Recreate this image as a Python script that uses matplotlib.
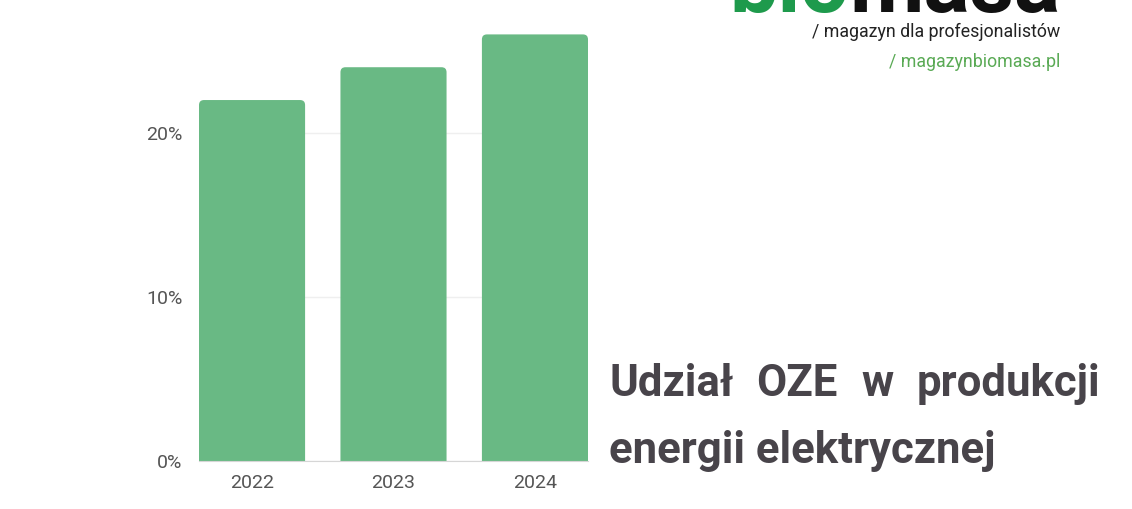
import matplotlib
matplotlib.use("Agg")
import matplotlib.pyplot as plt
from matplotlib.patches import FancyBboxPatch

# dane z wykresu
years = ["2022", "2023", "2024"]
share = [22, 24, 26]          # udział OZE, %
y_ticks = [0, 10, 20]

title_words = ["Udział", "OZE", "w", "produkcji"]
title_last = "energii elektrycznej"
logo_green = "bio"
logo_black = "masa"
tagline = "/ magazyn dla profesjonalistów"
site = "/ magazynbiomasa.pl"

W, H = 1132, 509
BAR = "#69b984"
GREY = "#555555"
TITLE = "#48444a"

plt.rcParams['font.family'] = ['Roboto', 'DejaVu Sans']

fig = plt.figure(figsize=(W / 100, H / 100), dpi=100)
fig.patch.set_facecolor("white")


def px(x, y):
    # piksele od lewego górnego rogu -> współrzędne figury
    return x / W, 1 - y / H


# --- wykres słupkowy ---
ax = fig.add_axes([199 / W, 48 / H, (588 - 199) / W, (461 - 18) / H])
x = list(range(len(years)))
bars = ax.bar(x, share, width=0.75, color=BAR)
ax.set_xlim(-0.375, len(years) - 1 + 0.375)
ax.set_ylim(0, 27)

# zaokrąglone rogi słupków
rx = 5 / 141.5
ry = 5 / 16.4
for b in bars:
    b.set_visible(False)
    p = FancyBboxPatch((b.get_x(), -2), b.get_width(), b.get_height() + 2,
                       boxstyle=f"round,pad=0,rounding_size={rx}",
                       mutation_aspect=ry / rx, fc=BAR, ec="none", zorder=2)
    ax.add_patch(p)

ax.set_yticks(y_ticks)
ax.set_yticklabels([f"{v}%" for v in y_ticks])
ax.set_xticks(x)
ax.set_xticklabels(years)
ax.tick_params(length=0, labelsize=14, colors=GREY)
ax.tick_params(axis="y", pad=12)
ax.tick_params(axis="x", pad=9)
ax.grid(axis="y", color="#efefef", lw=1)
ax.set_axisbelow(True)
for s in ["top", "right", "left"]:
    ax.spines[s].set_visible(False)
ax.spines["bottom"].set_color("#d6d6d6")
ax.set_facecolor("none")

# --- tytuł (wyjustowany) ---
fs_title = 31.5
left, right = 609, 1100
fig.canvas.draw()
r = fig.canvas.get_renderer()
words = []
for w in title_words:
    t = fig.text(0, 0, w, fontsize=fs_title, fontweight="bold", color=TITLE,
                 va="baseline", ha="left")
    words.append(t)
widths = [t.get_window_extent(r).width for t in words]
gap = (right - left - sum(widths)) / (len(words) - 1)
cx = left
for t, wd in zip(words, widths):
    t.set_position(px(cx, 396))
    cx += wd + gap
fig.text(*px(left, 463), title_last, fontsize=fs_title, fontweight="bold",
         color=TITLE, va="baseline", ha="left")

# --- logo ---
lg = fig.text(*px(1060, 12), logo_black, fontsize=62, fontweight="bold",
              color="#111111", va="baseline", ha="right")
fig.canvas.draw()
bx = lg.get_window_extent(r).x0
fig.text(bx / W, 1 - 12 / H, logo_green, fontsize=62, fontweight="bold",
         color="#1e9a4c", va="baseline", ha="right")
fig.text(*px(1060, 37), tagline, fontsize=12.8, color="#222222",
         va="baseline", ha="right")
fig.text(*px(1060, 67), site, fontsize=12.8, color="#5aaa55",
         va="baseline", ha="right")

fig.savefig("out.png", dpi=100, facecolor="white")
